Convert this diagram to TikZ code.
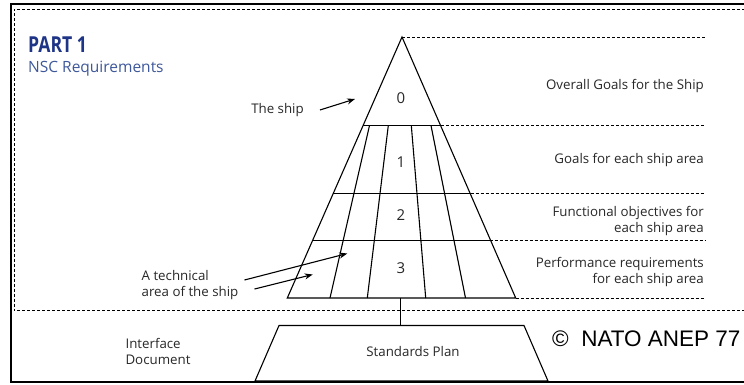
\documentclass[tikz,border=0pt]{standalone}
\usepackage{fontspec}
\setmainfont{Open Sans}
\newfontfamily\arialfont{Liberation Sans}
\usetikzlibrary{arrows.meta}
\definecolor{partblue}{RGB}{30,52,135}
\definecolor{nscblue}{RGB}{62,88,155}
\definecolor{txtgray}{RGB}{40,40,40}
\tikzset{
  lbl/.style={font=\fontsize{13.3}{16}\selectfont, text=txtgray, inner sep=0pt},
  rlbl/.style={lbl, anchor=east, align=right},
  num/.style={font=\fontsize{15}{16}\selectfont, text=txtgray, inner sep=0pt},
  tier/.style={line width=1.1pt, line join=miter},
  guide/.style={dash pattern=on 3pt off 2pt, line width=0.9pt},
  ptr/.style={line width=1.1pt, -{Stealth[length=8pt,width=6pt]}}
}
\begin{document}
\begin{tikzpicture}[x=1pt,y=-1pt]
\clip (0,0) rectangle (744,385);
\fill[white] (0,0) rectangle (744,385);
\draw[line width=2.6pt] (760,4) -- (11,4) -- (11,382) -- (760,382);
\draw[guide] (760,9.5) -- (14,9.5) -- (14,310.5) -- (760,310.5);
\node[anchor=west, inner sep=0pt, text=partblue, font=\fontsize{22}{22}\bfseries] (part) at (28,45) {\scalebox{0.8}[1]{PART 1}};
\node[anchor=west, inner sep=0pt, text=nscblue, font=\fontsize{15.5}{17}\selectfont] (nsc) at (28,69) {NSC Requirements};
\coordinate (apex) at (402,37);
\coordinate (l1) at (362.7,125.5);
\coordinate (r1) at (441,125.5);
\coordinate (l2) at (332.8,193.5);
\coordinate (r2) at (470.5,193.5);
\coordinate (l3) at (312.6,240.5);
\coordinate (r3) at (489.5,240.5);
\coordinate (l4) at (287.3,298);
\coordinate (r4) at (515.7,298);
\coordinate (a1) at (369.5,125.5);
\coordinate (b1) at (330,298);
\coordinate (a2) at (388.3,125.5);
\coordinate (b2) at (367.3,298);
\coordinate (a3) at (411.3,125.5);
\coordinate (b3) at (425.7,298);
\coordinate (a4) at (431,125.5);
\coordinate (b4) at (465.5,298);
\draw[tier] (apex) -- (l4) -- (r4) -- cycle;
\draw[tier] (l1) -- (r1);
\draw[tier] (l2) -- (r2);
\draw[tier] (l3) -- (r3);
\draw[tier] (a1) -- (b1);
\draw[tier] (a2) -- (b2);
\draw[tier] (a3) -- (b3);
\draw[tier] (a4) -- (b4);
\node[num] (n0) at (401,98) {0};
\node[num] (n1) at (401,162) {1};
\node[num] (n2) at (401,215) {2};
\node[num] (n3) at (401,268) {3};
\coordinate (g0) at (705,37);
\coordinate (g1) at (705,125.5);
\coordinate (g2) at (705,193.5);
\coordinate (g3) at (705,240.5);
\coordinate (g4) at (705,298);
\draw[guide] (apex) -- (g0);
\draw[guide] (r1) -- (g1);
\draw[guide] (r2) -- (g2);
\draw[guide] (r3) -- (g3);
\draw[guide] (r4) -- (g4);
\node[rlbl] (goal0) at (704,86) {Overall Goals for the Ship};
\node[rlbl] (goal1) at (704,160) {Goals for each ship area};
\node[rlbl] (goal2) at (704,221) {Functional objectives for\\each ship area};
\node[rlbl] (goal3) at (704,272) {Performance requirements\\for each ship area};
\node[lbl] (ship) at (277.5,110) {The ship};
\coordinate (shipto) at (355,99);
\draw[ptr] (ship.east) ++(16,0) -- (shipto);
\node[lbl, align=left] (area) at (190,285) {A technical\\area of the ship};
\coordinate (areato1) at (347.3,253.5);
\coordinate (areato2) at (312.7,274.5);
\draw[ptr] (area.east) ++(6,-5) -- (areato1);
\draw[ptr] (area.east) ++(16,4) -- (areato2);
\coordinate (basemid) at (400.5,298);
\coordinate (plantop) at (400.5,325.5);
\draw[tier] (basemid) -- (plantop);
\coordinate (p1) at (279,325.5);
\coordinate (p2) at (524,325.5);
\coordinate (p3) at (548,381);
\coordinate (p4) at (255,381);
\draw[tier] (p1) -- (p2) -- (p3) -- (p4) -- cycle;
\node[lbl] (plan) at (413,352) {Standards Plan};
\node[lbl, align=left] (iface) at (158,351.5) {Interface\\Document};
\node[anchor=base west, inner sep=0pt, font=\arialfont\fontsize{22.5}{24}\selectfont] (nato) at (552,346.5) {\copyright\ \ NATO ANEP 77};
\end{tikzpicture}
\end{document}
